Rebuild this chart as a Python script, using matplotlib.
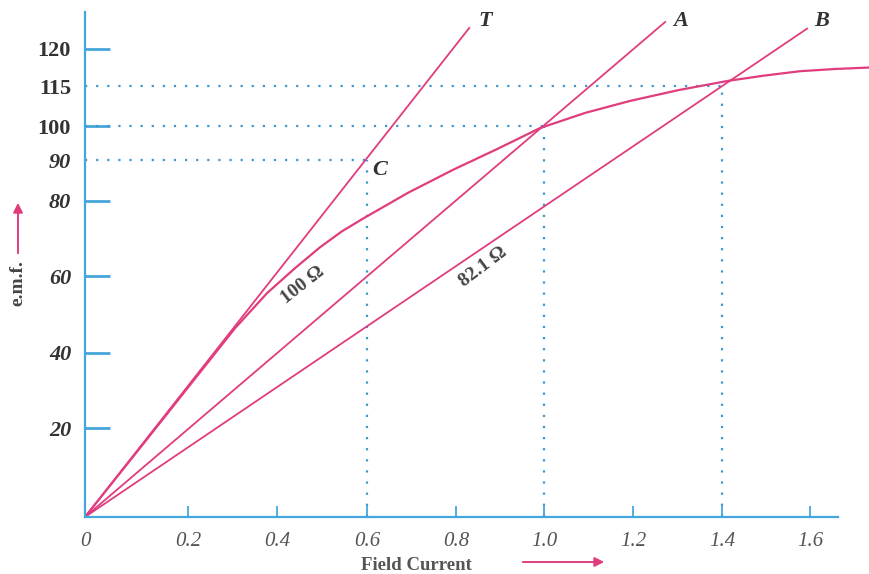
import numpy as np
import matplotlib.pyplot as plt
from matplotlib.ticker import FixedLocator, FixedFormatter
from matplotlib.patches import FancyArrowPatch

plt.rcParams['font.family'] = ['Liberation Serif', 'DejaVu Serif']

# --- data (field current / e.m.f.) ---
occ_current = [0, 0.117, 0.238, 0.306, 0.378, 0.44, 0.496, 0.544, 0.591, 0.692, 0.793,
               0.893, 0.991, 1.092, 1.193, 1.303, 1.414, 1.495, 1.577, 1.657, 1.736]
occ_emf = [0, 17.0, 36.5, 46.5, 55.6, 62.1, 67.7, 71.9, 75.3, 82.0, 87.6,
           93.2, 99.4, 104.9, 109.4, 113.5, 115.7, 116.4, 117.0, 117.3, 117.5]

# straight field-resistance lines from the origin (end points)
line_names = ['T', 'A', 'B']
line_end_current = [0.83, 1.272, 1.593]
line_end_emf = [125.7, 127.3, 125.5]

# dotted projection points
proj_current = [0.6, 1.0, 1.4]
proj_emf = [90, 100, 115]

x_ticks = [0, 0.2, 0.4, 0.6, 0.8, 1.0, 1.2, 1.4, 1.6]
x_labels = ['0', '0.2', '0.4', '0.6', '0.8', '1.0', '1.2', '1.4', '1.6']
y_ticks = [20, 40, 60, 80, 100, 120]
y_minor = [90, 115]

# the printed axes are not evenly spaced: knots -> pixel offsets
xk_val = [-1, 0, 0.2, 0.4, 0.6, 0.8, 1.0, 1.2, 1.4, 1.6, 2.0]
xk_px = [-445, 0, 103, 192, 282, 371, 459, 548, 637, 725, 901]
yk_val = [-100, 0, 20, 40, 60, 80, 90, 100, 115, 120, 140]
yk_px = [-445, 0, 89, 164, 241, 316, 357, 391, 431, 468, 542]


def fx(v):
    return np.interp(v, xk_val, xk_px)


def fx_inv(p):
    return np.interp(p, xk_px, xk_val)


def fy(v):
    return np.interp(v, yk_val, yk_px)


def fy_inv(p):
    return np.interp(p, yk_px, yk_val)


pink = '#e03c7e'
blue = '#45a6dc'
dot = '#3b97cf'

fig = plt.figure(figsize=(8.7, 5.74), dpi=100)
ax = fig.add_axes([85 / 870, 57 / 574, 785 / 870, 505 / 574])
ax.set_xscale('function', functions=(fx, fx_inv))
ax.set_yscale('function', functions=(fy, fy_inv))
ax.set_xlim(0, 1.736)
ax.set_ylim(0, 130)

# dotted guide lines
for i, v in zip(proj_current, proj_emf):
    ax.plot([0, i], [v, v], linestyle=(0, (1, 4)), color=dot, lw=1.6)
    ax.plot([i, i], [0, v], linestyle=(0, (1, 4)), color=dot, lw=1.6)

# O.C.C. and resistance lines
ax.plot(occ_current, occ_emf, color=pink, lw=1.6)
for name, i, v in zip(line_names, line_end_current, line_end_emf):
    ax.plot([0, i], [0, v], color=pink, lw=1.3)

lbl = dict(fontsize=16, fontweight='bold', style='italic', color='#333333', ha='center', va='center')
ax.text(0.866, 127.6, 'T', **lbl)
ax.text(1.306, 127.6, 'A', **lbl)
ax.text(1.627, 127.6, 'B', **lbl)
ax.text(0.629, 87.6, 'C', **lbl)
ax.text(0.458, 57.7, '100 Ω', fontsize=14, fontweight='bold', color='#444444', rotation=38,
        ha='center', va='center')
ax.text(0.861, 62.4, '82.1 Ω', fontsize=14, fontweight='bold', color='#444444', rotation=37,
        ha='center', va='center')

# axes styling
for s in ['top', 'right']:
    ax.spines[s].set_visible(False)
ax.spines['left'].set_color(blue)
ax.spines['bottom'].set_color(blue)
ax.spines['left'].set_linewidth(1.6)
ax.spines['bottom'].set_linewidth(1.6)
ax.spines['bottom'].set_bounds(0, 1.664)

ax.xaxis.set_major_locator(FixedLocator(x_ticks))
ax.xaxis.set_major_formatter(FixedFormatter(x_labels))
ax.xaxis.set_minor_locator(FixedLocator([]))
ax.tick_params(axis='x', direction='in', length=8, width=1.3, color=blue, pad=11,
               labelsize=15, labelcolor='#555555')
for t in ax.get_xticklabels():
    t.set_fontstyle('italic')

ax.yaxis.set_major_locator(FixedLocator(y_ticks))
ax.yaxis.set_major_formatter(FixedFormatter([str(v) for v in y_ticks]))
ax.yaxis.set_minor_locator(FixedLocator(y_minor))
ax.yaxis.set_minor_formatter(FixedFormatter([str(v) for v in y_minor]))
ax.tick_params(axis='y', which='major', direction='in', length=18, width=2, color=blue, pad=10,
               labelsize=16, labelcolor='#333333')
ax.tick_params(axis='y', which='minor', length=0, pad=10, labelsize=16, labelcolor='#333333')
for t in ax.get_yticklabels() + ax.get_yticklabels(minor=True):
    t.set_fontweight('bold')
    if t.get_text() in ('20', '40', '60', '80', '90'):
        t.set_fontstyle('italic')

# axis titles with arrows
fig.text(416 / 870, 1 - 565 / 574, 'Field Current', fontsize=13.5, fontweight='bold',
         color='#555555', ha='center', va='center')
fig.patches.append(FancyArrowPatch(
    (520 / 870, 1 - 562 / 574), (607 / 870, 1 - 562 / 574), transform=fig.transFigure,
    arrowstyle='-|>', mutation_scale=14, color=pink, lw=1.4))
fig.text(18 / 870, 1 - 283 / 574, 'e.m.f.', fontsize=14, fontweight='bold', color='#444444',
         rotation=90, ha='center', va='center')
fig.patches.append(FancyArrowPatch(
    (18 / 870, 1 - 256 / 574), (18 / 870, 1 - 200 / 574), transform=fig.transFigure,
    arrowstyle='-|>', mutation_scale=14, color=pink, lw=1.4))

plt.savefig('out.png', dpi=100)
